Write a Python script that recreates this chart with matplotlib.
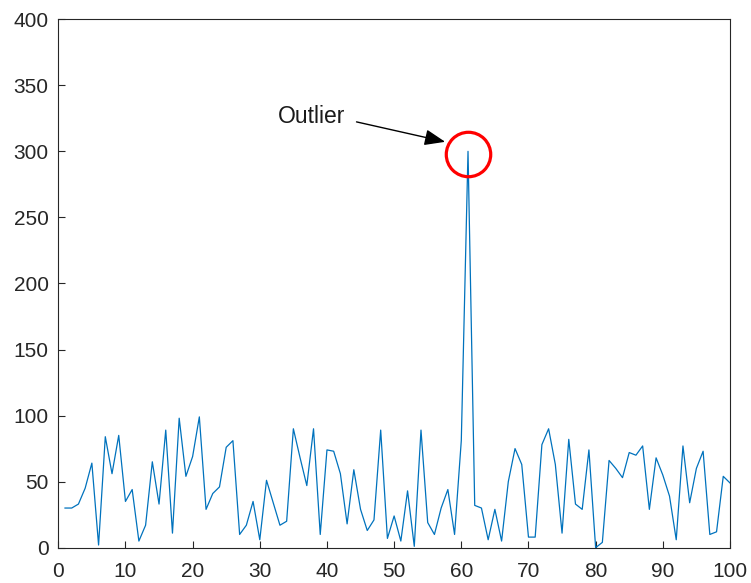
import matplotlib
matplotlib.use("Agg")
import matplotlib.pyplot as plt
import numpy as np

plt.rcParams['font.family'] = ['Liberation Sans', 'DejaVu Sans']

# Sample index and measured signal
x_values = list(range(1, 101))
y_values = [30, 30, 33, 45, 64, 2, 84, 56, 85, 35,
            44, 5, 17, 65, 33, 89, 11, 98, 54, 69,
            99, 29, 41, 46, 76, 81, 10, 17, 35, 6,
            51, 34, 17, 20, 90, 68, 47, 90, 10, 74,
            73, 56, 18, 59, 29, 13, 21, 89, 7, 24,
            5, 43, 1, 89, 19, 10, 30, 44, 10, 81,
            300, 32, 30, 6, 29, 5, 50, 75, 63, 8,
            8, 78, 90, 63, 11, 82, 33, 29, 74, 0,
            4, 66, 60, 53, 72, 70, 77, 29, 68, 55,
            39, 6, 77, 34, 60, 73, 10, 12, 54, 49]

x_ticks = [0, 10, 20, 30, 40, 50, 60, 70, 80, 90, 100]
y_ticks = [0, 50, 100, 150, 200, 250, 300, 350, 400]

outlier_label = "Outlier"
outlier_index = int(np.argmax(y_values))
outlier_x = x_values[outlier_index]
outlier_y = y_values[outlier_index]

fig = plt.figure(figsize=(7.51, 5.83), dpi=100)
ax = fig.add_axes([0.0776, 0.0606, 0.972 - 0.0776, 0.967 - 0.0606])

ax.plot(x_values, y_values, color='#0072BD', lw=0.9)

# Highlight the outlier
ax.plot([outlier_x], [outlier_y - 2], marker='o', ms=32, mfc='none',
        mec='#FF0000', mew=2.3, ls='none')

ax.annotate('', xy=(57.6, 307.2), xytext=(44.4, 322.3),
            arrowprops=dict(arrowstyle='-|>,head_length=0.9,head_width=0.35',
                            color='black', lw=1.0, mutation_scale=14,
                            shrinkA=0, shrinkB=0))
ax.text(32.7, 326, outlier_label, fontsize=16.5, color='#1a1a1a',
        ha='left', va='center')

ax.set_xlim(0, 100)
ax.set_ylim(0, 400)
ax.set_xticks(x_ticks)
ax.set_yticks(y_ticks)
ax.tick_params(direction='in', length=5, width=0.8, colors='#262626',
               labelsize=15, top=False, right=False)
ax.tick_params(axis='x', pad=10)
ax.tick_params(axis='y', pad=7)
for s in ax.spines.values():
    s.set_color('#262626')
    s.set_linewidth(0.8)

fig.savefig('out.png', dpi=100, facecolor='white')
